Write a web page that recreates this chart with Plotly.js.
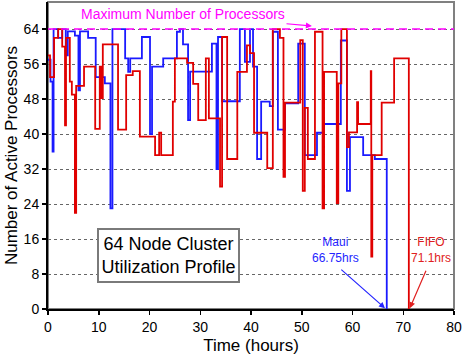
<!DOCTYPE html>
<html>
<head>
<meta charset="utf-8">
<script src="https://cdn.plot.ly/plotly-3.0.1.min.js"></script>
<style>html,body{margin:0;padding:0;background:#fff;}#chart{width:473px;height:355px;}</style>
</head>
<body>
<div id="chart"></div>
<script>
// Maui scheduler: active processors (step profile)
var mauiTime  = [0, 0.5, 0.9, 1.1, 2.0, 2.8, 3.5, 3.9, 5.3, 6.0, 6.3, 7.9, 9.4, 11.2, 12.3, 12.7, 15.2, 15.8, 16.2, 18.5, 20.1, 20.5, 22.7, 25.4, 26.0, 26.6, 27.6, 28.0, 32.3, 33.2, 33.5, 34.3, 37.8, 38.8, 39.8, 40.4, 41.2, 42.0, 43.7, 44.3, 45.3, 46.7, 49.3, 50.6, 53.0, 54.4, 57.7, 58.9, 59.5, 62.1, 64.4, 66.75];
var mauiProcs = [57, 52, 36, 64, 62, 64, 58, 63.5, 62.5, 50, 63.5, 62, 53, 51.6, 23, 64, 57.3, 54.2, 57.3, 62.2, 40, 55.4, 57.3, 63.4, 64, 60.5, 43.2, 54.3, 60.7, 32, 62.2, 47.5, 64, 56.5, 64, 55.4, 34.3, 47.4, 46.4, 63.4, 41, 47, 60.7, 35.2, 40.3, 42.3, 61.4, 27, 39.3, 35.2, 34.3, 0];
// FIFO scheduler: active processors (step profile)
var fifoTime  = [0, 0.4, 1.2, 2.0, 2.8, 3.35, 3.55, 4.3, 4.7, 5.3, 5.55, 7.1, 9.3, 10.2, 10.5, 10.8, 13.8, 15.4, 16.7, 18.1, 21.1, 21.9, 22.3, 24.6, 25.0, 27.4, 28.6, 29.6, 31.1, 31.7, 33.9, 34.3, 35.3, 37.3, 39.2, 39.8, 40.6, 43.2, 44.3, 45.7, 46.4, 46.7, 49.7, 50.2, 50.6, 51.2, 52.6, 54.1, 54.4, 56.9, 57.2, 57.8, 58.9, 59.3, 60.9, 61.1, 63.6, 63.7, 63.9, 65.75, 68.2, 71.1];
var fifoProcs = [58, 53, 62, 64, 60, 42, 62, 52, 49, 22, 51, 55.4, 41.2, 55.4, 48.2, 60.5, 41, 53.5, 54.4, 39.4, 35.2, 40.3, 35.2, 47.4, 57.3, 56.3, 51.5, 43.2, 57.3, 43.6, 28, 62.2, 34.3, 54.2, 60.3, 58.5, 40.3, 32.2, 64, 62, 30.2, 47.2, 61.5, 27, 46, 34.3, 63.4, 23, 54.2, 24.2, 51.6, 64, 37, 40.4, 47.3, 42.3, 54.4, 12, 35.2, 47.2, 57.3, 0];

var xTicks = [0, 10, 20, 30, 40, 50, 60, 70, 80];
var yTicks = [0, 8, 16, 24, 32, 40, 48, 56, 64];
var maxProcessors = 64;
var mauiEnd = 66.75;
var fifoEnd = 71.1;

var FONT = "Liberation Sans, Arial, Helvetica, sans-serif";
var BLUE = "#1a1aff";
var RED = "#e00000";
var MAGENTA = "#ff00ff";

var traces = [
  {x: mauiTime, y: mauiProcs, mode: "lines", line: {shape: "hv", color: BLUE, width: 1.8}, name: "Maui", hoverinfo: "x+y"},
  {x: fifoTime, y: fifoProcs, mode: "lines", line: {shape: "hv", color: RED, width: 1.8}, name: "FIFO", hoverinfo: "x+y"}
];

var layout = {
  width: 473, height: 355,
  margin: {l: 48, r: 19, t: 2, b: 46},
  paper_bgcolor: "#fff", plot_bgcolor: "#fff",
  showlegend: false,
  font: {family: FONT, color: "#000"},
  xaxis: {
    range: [0, 80], tickvals: xTicks, ticktext: xTicks.map(String),
    ticks: "outside", ticklen: 4, tickwidth: 1.5, tickcolor: "#000",
    showline: true, linecolor: "#000", linewidth: 2,
    showgrid: false, zeroline: false,
    tickfont: {size: 14, family: FONT, color: "#000"},
    title: {text: "Time (hours)", font: {size: 17, family: FONT, color: "#000"}, standoff: 5}
  },
  yaxis: {
    range: [0, 70.2], tickvals: yTicks, ticktext: yTicks.map(String),
    ticks: "outside", ticklen: 4, tickwidth: 1.5, tickcolor: "#000",
    showline: true, linecolor: "#000", linewidth: 2,
    showgrid: true, gridcolor: "#666", gridwidth: 1, griddash: "dot",
    zeroline: false,
    tickfont: {size: 14, family: FONT, color: "#000"},
    title: {text: "Number of Active Processors", font: {size: 17, family: FONT, color: "#000"}, standoff: 2}
  },
  shapes: [
    {type: "rect", xref: "paper", yref: "paper", x0: 0, x1: 1, y0: 0, y1: 1,
     line: {color: "#808080", width: 2}, layer: "below"},
    {type: "line", xref: "x", yref: "y", x0: 0, x1: 80, y0: maxProcessors, y1: maxProcessors,
     line: {color: MAGENTA, width: 1.5, dash: "8px,5px"}}
  ],
  annotations: [
    {x: 52, y: 64.7, ax: 26.6, ay: 67.4, axref: "x", ayref: "y", xref: "x", yref: "y",
     text: "Maximum Number of Processors", showarrow: true, arrowhead: 2, arrowsize: 1, arrowwidth: 1.2,
     arrowcolor: MAGENTA, font: {size: 14, color: MAGENTA, family: FONT}},
    {x: 23.8, y: 12.34, xref: "x", yref: "y", showarrow: false,
     text: "64 Node Cluster<br>Utilization Profile",
     font: {size: 18, color: "#000", family: FONT},
     bgcolor: "#fff", bordercolor: "#7a7a7a", borderwidth: 2, borderpad: 2, width: 135, height: 47},
    {x: 56.65, y: 13.5, xref: "x", yref: "y", showarrow: false,
     text: "Maui<br>" + mauiEnd + "hrs", font: {size: 12, color: "#2424ff", family: FONT}},
    {x: 66.4, y: 0.2, ax: 57.5, ay: 9.3, axref: "x", ayref: "y", xref: "x", yref: "y",
     text: "", showarrow: true, arrowhead: 2, arrowsize: 1, arrowwidth: 1.2, arrowcolor: "#2424ff"},
    {x: 75.5, y: 13.5, xref: "x", yref: "y", showarrow: false,
     text: "FIFO<br>" + fifoEnd + "hrs", font: {size: 12, color: "#e02020", family: FONT}},
    {x: 71.3, y: 0.2, ax: 74.6, ay: 9.1, axref: "x", ayref: "y", xref: "x", yref: "y",
     text: "", showarrow: true, arrowhead: 2, arrowsize: 1, arrowwidth: 1.2, arrowcolor: "#e02020"}
  ]
};

Plotly.newPlot("chart", traces, layout, {staticPlot: true, displayModeBar: false});
</script>
</body>
</html>
